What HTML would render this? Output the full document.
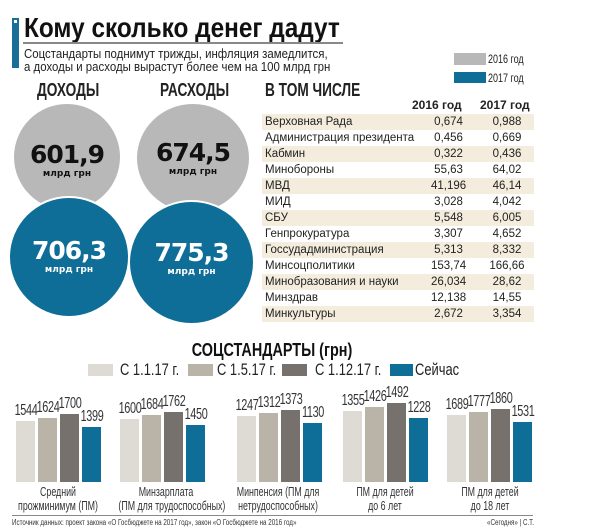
<!DOCTYPE html>
<html><head><meta charset="utf-8"><style>
body{margin:0;width:610px;height:530px;background:#fff;position:relative;overflow:hidden;font-family:"Liberation Sans",sans-serif;color:#222}
.a{position:absolute;white-space:nowrap}
.s{transform-origin:0 0}
.c{position:absolute;border-radius:50%}
.bar{position:absolute;width:19px}
.v{position:absolute;font-size:16px;width:40px;text-align:center;letter-spacing:-0.5px;color:#333;transform:scaleX(0.68);transform-origin:50% 0}
.cat{position:absolute;font-size:13px;text-align:center;width:140px;line-height:14px;color:#333;transform:scaleX(0.68);transform-origin:50% 0;white-space:nowrap}
table{border-collapse:collapse;font-family:"Liberation Sans",sans-serif;font-size:11.5px;color:#222}
td{height:16px;padding:0 3px;line-height:16px}
tr.o td{background:#f4eddd}
td.n{text-align:center}
.h{font:bold 18px 'Liberation Sans',sans-serif;transform:scaleX(0.76);transform-origin:0 0}
.lg{font-size:17px;transform:scaleX(0.76);transform-origin:0 0;top:360px}
</style></head><body>
<div class="a" style="left:12px;top:18px;width:7px;height:50px;background:#1a6f98"></div>
<div class="a" style="left:14px;top:20px;width:3px;height:3px;background:#fff"></div>
<div class="a s" style="left:24px;top:12px;font:bold 28px 'Liberation Sans',sans-serif;color:#111;transform:scaleX(0.87)">Кому сколько денег дадут</div>
<div class="a" style="left:23px;top:42px;width:320px;height:2px;background:#888"></div>
<div class="a s" style="left:24px;top:47px;font-size:13px;line-height:13px;color:#222;transform:scaleX(0.88)">Соцстандарты поднимут трижды, инфляция замедлится,<br>а доходы и расходы вырастут более чем на 100 млрд грн</div>
<div class="a" style="left:454px;top:53px;width:32px;height:12px;background:#b8b8b8"></div>
<div class="a s" style="left:488px;top:52px;font-size:12px;transform:scaleX(0.75)">2016 год</div>
<div class="a" style="left:454px;top:72px;width:32px;height:11px;background:#0e6e98"></div>
<div class="a s" style="left:488px;top:71px;font-size:12px;transform:scaleX(0.75)">2017 год</div>
<div class="a h" style="left:37px;top:80px">ДОХОДЫ</div>
<div class="a h" style="left:160px;top:80px">РАСХОДЫ</div>
<div class="a h" style="left:265px;top:80px">В ТОМ ЧИСЛЕ</div>

<div class="c" style="left:14px;top:104px;width:106px;height:106px;background:#b8b8b8"></div>
<div class="c" style="left:137px;top:104px;width:112px;height:108px;background:#b8b8b8"></div>
<div class="c" style="left:10px;top:198px;width:118px;height:118px;background:#0e6e98;box-shadow:0 0 0 2px #fff"></div>
<div class="c" style="left:130px;top:202px;width:123px;height:121px;background:#0e6e98;box-shadow:0 0 0 2px #fff"></div>
<div class="a" style="left:14px;top:140px;width:106px;text-align:center;font:bold 25px 'DejaVu Sans',sans-serif;color:#111;letter-spacing:-1px">601,9</div>
<div class="a" style="left:14px;top:169px;width:106px;text-align:center;font:bold 9px 'DejaVu Sans',sans-serif;color:#111">млрд грн</div>
<div class="a" style="left:137px;top:138px;width:112px;text-align:center;font:bold 25px 'DejaVu Sans',sans-serif;color:#111;letter-spacing:-1px">674,5</div>
<div class="a" style="left:137px;top:167px;width:112px;text-align:center;font:bold 9px 'DejaVu Sans',sans-serif;color:#111">млрд грн</div>
<div class="a" style="left:10px;top:236px;width:118px;text-align:center;font:bold 25px 'DejaVu Sans',sans-serif;color:#fff;letter-spacing:-1px">706,3</div>
<div class="a" style="left:10px;top:265px;width:118px;text-align:center;font:bold 9px 'DejaVu Sans',sans-serif;color:#fff">млрд грн</div>
<div class="a" style="left:130px;top:238px;width:123px;text-align:center;font:bold 25px 'DejaVu Sans',sans-serif;color:#fff;letter-spacing:-1px">775,3</div>
<div class="a" style="left:130px;top:267px;width:123px;text-align:center;font:bold 9px 'DejaVu Sans',sans-serif;color:#fff">млрд грн</div>

<div class="a" style="left:412px;top:98px;font:bold 12px 'Liberation Sans',sans-serif">2016 год</div>
<div class="a" style="left:480px;top:98px;font:bold 12px 'Liberation Sans',sans-serif">2017 год</div>
<table class="a" style="left:262px;top:114px;width:272px">
<colgroup><col style="width:150px"><col style="width:66px"><col style="width:56px"></colgroup>
<tr class="o"><td>Верховная Рада</td><td class="n">0,674</td><td class="n">0,988</td></tr>
<tr><td>Администрация президента</td><td class="n">0,456</td><td class="n">0,669</td></tr>
<tr class="o"><td>Кабмин</td><td class="n">0,322</td><td class="n">0,436</td></tr>
<tr><td>Минобороны</td><td class="n">55,63</td><td class="n">64,02</td></tr>
<tr class="o"><td>МВД</td><td class="n">41,196</td><td class="n">46,14</td></tr>
<tr><td>МИД</td><td class="n">3,028</td><td class="n">4,042</td></tr>
<tr class="o"><td>СБУ</td><td class="n">5,548</td><td class="n">6,005</td></tr>
<tr><td>Генпрокуратура</td><td class="n">3,307</td><td class="n">4,652</td></tr>
<tr class="o"><td>Госсудадминистрация</td><td class="n">5,313</td><td class="n">8,332</td></tr>
<tr><td>Минсоцполитики</td><td class="n">153,74</td><td class="n">166,66</td></tr>
<tr class="o"><td>Минобразования и науки</td><td class="n">26,034</td><td class="n">28,62</td></tr>
<tr><td>Минздрав</td><td class="n">12,138</td><td class="n">14,55</td></tr>
<tr class="o"><td>Минкультуры</td><td class="n">2,672</td><td class="n">3,354</td></tr>
</table>

<div class="a" style="left:0;width:544px;text-align:center;top:340px;font:bold 18px 'Liberation Sans',sans-serif;color:#111;transform:scaleX(0.8);transform-origin:272px 0">СОЦСТАНДАРТЫ (грн)</div>
<div class="a" style="left:88px;top:364px;width:25px;height:12px;background:#dddbd3"></div>
<div class="a lg" style="left:120px">С 1.1.17 г.</div>
<div class="a" style="left:188px;top:364px;width:25px;height:12px;background:#b9b4a7"></div>
<div class="a lg" style="left:217px">С 1.5.17 г.</div>
<div class="a" style="left:282px;top:364px;width:25px;height:12px;background:#77716e"></div>
<div class="a lg" style="left:315px">С 1.12.17 г.</div>
<div class="a" style="left:390px;top:364px;width:23px;height:12px;background:#0e6e98"></div>
<div class="a lg" style="left:415px">Сейчас</div>

<div id="bars"></div>
<script>
var g=[[16,[1544,1624,1700,1399],[421,418,414,427]],[120,[1600,1684,1762,1450],[419,415,412,425]],[237,[1247,1312,1373,1130],[416,413,410,423]],[343,[1355,1426,1492,1228],[411,407,403,418]],[447,[1689,1777,1860,1531],[415,412,409,422]]];
var col=['#dddbd3','#b9b4a7','#77716e','#0e6e98'],h='';
g.forEach(function(q){for(var i=0;i<4;i++){var x=q[0]+i*22,t=q[2][i];h+='<div class="bar" style="left:'+x+'px;top:'+t+'px;height:'+(482-t)+'px;background:'+col[i]+'"></div><div class="v" style="left:'+(x-10)+'px;top:'+(t-19)+'px">'+q[1][i]+'</div>';}});
document.getElementById('bars').innerHTML=h;
</script>
<div class="cat" style="left:-12px;top:485px">Средний<br>прожминимум (ПМ)</div>
<div class="cat" style="left:96px;top:485px">Минзарплата<br>(ПМ для трудоспособных)</div>
<div class="cat" style="left:208px;top:485px">Минпенсия (ПМ для<br>нетрудоспособных)</div>
<div class="cat" style="left:315px;top:485px">ПМ для детей<br>до 6 лет</div>
<div class="cat" style="left:420px;top:485px">ПМ для детей<br>до 18 лет</div>
<div class="a" style="left:12px;top:515px;width:521px;height:1px;background:#888"></div>
<div class="a s" style="left:12px;top:518px;font-size:8px;color:#333;transform:scaleX(0.78)">Источник данных: проект закона «О Госбюджете на 2017 год», закон «О Госбюджете на 2016 год»</div>
<div class="a s" style="left:487px;top:518px;font-size:8px;color:#333;transform:scaleX(0.78)">«Сегодня» | С.Т.</div>
</body></html>
